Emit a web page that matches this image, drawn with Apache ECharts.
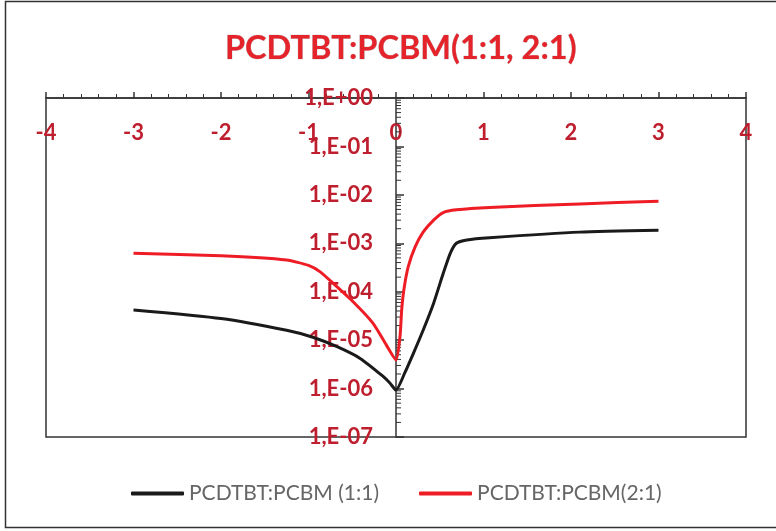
<!DOCTYPE html>
<html>
<head>
<meta charset="utf-8">
<script src="https://cdn.jsdelivr.net/npm/echarts@6/dist/echarts.min.js"></script>
<style>
  html, body { margin: 0; padding: 0; background: #fff; }
  #chart { width: 776px; height: 531px; }
</style>
</head>
<body>
<div id="chart"></div>
<script>
// Current density vs voltage for two blend ratios (log scale)
const voltage11 = [-3, -2, -1.25, -0.95, -0.68, -0.41, -0.15, -0.07, 0, 0.1, 0.2, 0.31, 0.43, 0.54, 0.62, 0.69, 0.81, 1.07, 2.1, 3];
const current11 = [4.2e-5, 2.8e-5, 1.6e-5, 1.15e-5, 7.4e-6, 4.2e-6, 1.8e-6, 1.3e-6, 9.3e-7, 2.1e-6, 5.4e-6, 1.6e-5, 5.8e-5, 2.4e-4, 6.2e-4, 1.0e-3, 1.17e-3, 1.3e-3, 1.7e-3, 1.86e-3];

const voltage21 = [-3, -2, -1.25, -1.0, -0.87, -0.72, -0.49, -0.26, -0.11, 0, 0.046, 0.065, 0.09, 0.14, 0.22, 0.31, 0.43, 0.54, 0.69, 1.07, 2.1, 3];
const current21 = [6.2e-4, 5.5e-4, 4.5e-4, 3.5e-4, 2.6e-4, 1.5e-4, 6.2e-5, 2.2e-5, 7.9e-6, 3.9e-6, 1.2e-5, 4.2e-5, 1.1e-4, 3.3e-4, 8.5e-4, 1.7e-3, 3.0e-3, 4.3e-3, 4.9e-3, 5.5e-3, 6.5e-3, 7.4e-3];

const seriesNames = ['PCDTBT:PCBM (1:1)', 'PCDTBT:PCBM(2:1)'];
const titleText = 'PCDTBT:PCBM(1:1, 2:1)';

// Log-axis minor ticks (2..9 within each decade)
const minorTickValues = [];
for (let e = -7; e < 0; e++) {
  for (let k = 2; k <= 9; k++) minorTickValues.push([0, k * Math.pow(10, e)]);
}

const zip = (xs, ys) => xs.map((x, i) => [x, ys[i]]);
const labelRed = '#be1e2d';

// Plot box geometry
const gridLeft = 46, gridRight = 30;
const chartWidth = 776;
const xMin = -4, xMax = 4;
// y labels sit left of the vertical axis drawn at x = 0
const zeroOffset = (chartWidth - gridLeft - gridRight) * (0 - xMin) / (xMax - xMin);

const chart = echarts.init(document.getElementById('chart'), null, { renderer: 'canvas' });
chart.setOption({
  backgroundColor: '#fff',
  animation: false,
  title: {
    text: titleText,
    left: 220,
    top: 27,
    textStyle: { fontFamily: 'Lato', fontWeight: 'bold', fontSize: 32.5, color: '#e5232b',
      textBorderColor: 'rgba(120,120,120,0.5)', textBorderWidth: 0.6 }
  },
  graphic: [{
    type: 'rect',
    shape: { x: 5.5, y: 1.5, width: 800, height: 526 },
    style: { fill: 'none', stroke: '#333', lineWidth: 1.5 },
    silent: true
  }],
  grid: {
    left: gridLeft, right: gridRight, top: 98, bottom: 94,
    containLabel: false,
    outerBoundsMode: 'none',
    show: true, borderColor: '#333', borderWidth: 1.5
  },
  legend: {
    bottom: 22,
    left: 126,
    icon: 'roundRect',
    itemWidth: 53,
    itemHeight: 4,
    itemGap: 40,
    data: seriesNames,
    textStyle: { fontFamily: 'Lato', fontSize: 21, color: '#666' }
  },
  xAxis: {
    type: 'value',
    position: 'top',
    min: xMin, max: xMax, interval: 1,
    axisLine: { onZero: false, lineStyle: { color: '#333', width: 1.5 } },
    axisTick: { inside: false, length: 6, lineStyle: { color: '#333', width: 1.5 } },
    minorTick: { show: true, splitNumber: 5, length: 4, lineStyle: { color: '#333', width: 1 } },
    axisLabel: { inside: true, margin: 24, fontFamily: 'Lato', fontWeight: 'bold', fontSize: 22, color: labelRed },
    splitLine: { show: false }
  },
  yAxis: {
    type: 'log',
    logBase: 10,
    min: 1e-7, max: 1,
    interval: 1,
    axisLine: { show: true, onZero: true, lineStyle: { color: '#333', width: 1.5 } },
    axisTick: { show: true, inside: true, length: 8, lineStyle: { color: '#333', width: 1.5 } },
    axisLabel: {
      margin: 23 - zeroOffset,
      fontFamily: 'Lato', fontWeight: 'bold', fontSize: 22, color: labelRed,
      formatter: v => {
        const e = Math.round(Math.log10(v));
        return '1,E' + (e >= 0 ? '+' : '-') + String(Math.abs(e)).padStart(2, '0');
      }
    },
    splitLine: { show: false }
  },
  series: [
    {
      name: seriesNames[0],
      type: 'line',
      data: zip(voltage11, current11),
      symbol: 'none',
      smooth: 0.2,
      lineStyle: { color: '#1a1a1a', width: 3 },
      itemStyle: { color: '#1a1a1a' },
      z: 3
    },
    {
      name: seriesNames[1],
      type: 'line',
      data: zip(voltage21, current21),
      symbol: 'none',
      smooth: 0.2,
      lineStyle: { color: '#ee1c25', width: 3 },
      itemStyle: { color: '#ee1c25' },
      z: 3
    },
    {
      name: 'minorTicks',
      type: 'custom',
      silent: true,
      data: minorTickValues,
      renderItem: (params, api) => {
        const p = api.coord([api.value(0), api.value(1)]);
        const x = Math.round(p[0]);
        return {
          type: 'line',
          shape: { x1: x, y1: p[1], x2: x + 5, y2: p[1] },
          style: { stroke: '#333', lineWidth: 1 }
        };
      },
      z: 2
    }
  ]
});
</script>
</body>
</html>
